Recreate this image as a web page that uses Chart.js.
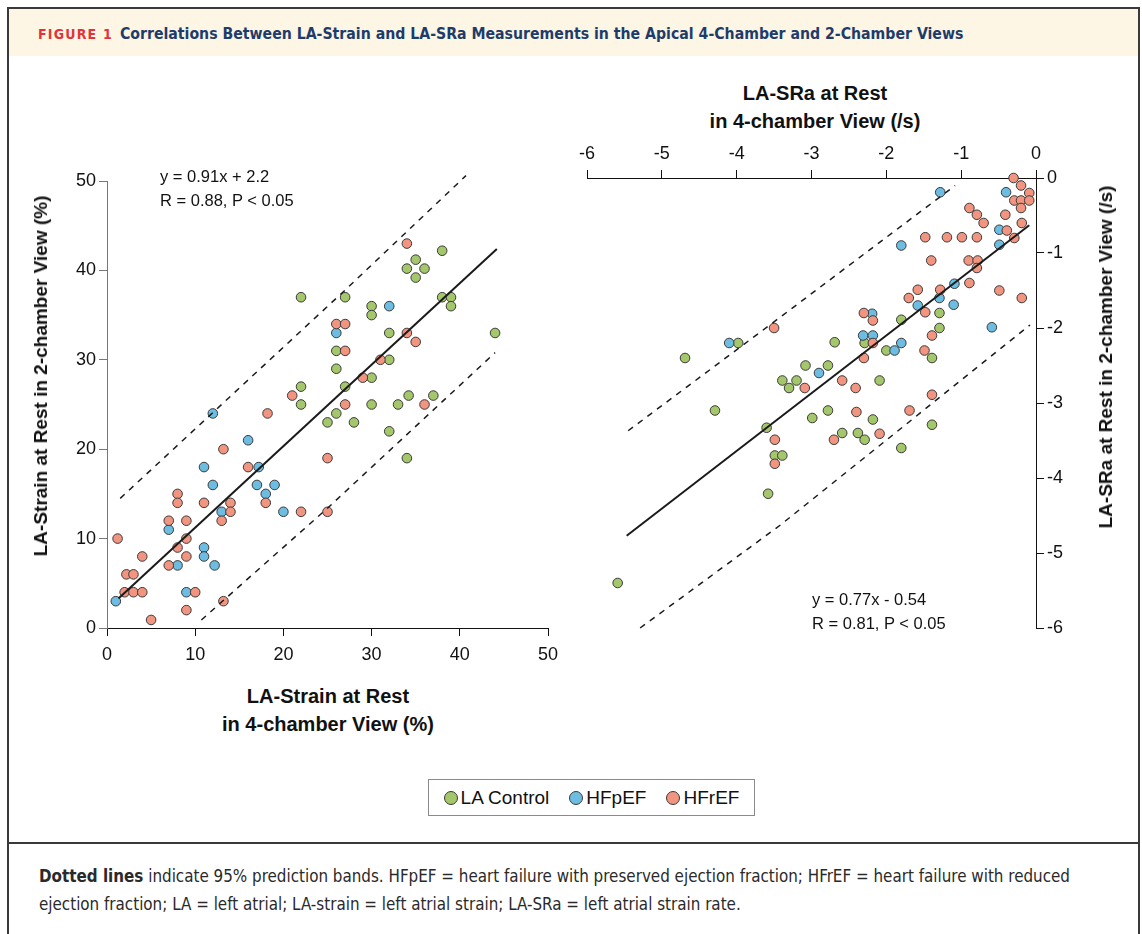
<!DOCTYPE html>
<html>
<head>
<meta charset="utf-8">
<script src="https://cdn.jsdelivr.net/npm/chart.js@4.4.1/dist/chart.umd.min.js"></script>
<style>
  body { margin: 0; width: 1142px; height: 934px; background: #fff; position: relative; overflow: hidden;
         font-family: "Liberation Sans", Arial, sans-serif; color: #111; }
  .abs { position: absolute; }
  #frame { left: 7px; top: 7px; width: 1133px; height: 940px; border: 2px solid #3a3a3a; border-bottom: none; box-sizing: border-box; }
  #band { left: 9px; top: 9px; width: 1129px; height: 47px; background: #fdf6e4; }
  #head { left: 38px; top: 24px; font-family: "DejaVu Sans Condensed", "DejaVu Sans", sans-serif; font-weight: bold; font-size: 15.7px; color: #1d3c6c; white-space: nowrap; }
  #head .fig { color: #e2333a; letter-spacing: 1.2px; margin-right: 7px; font-size: 14px; }
  #divider { left: 7px; top: 842px; width: 1133px; height: 2px; background: #3a3a3a; }
  #foot { left: 39px; top: 862px; width: 1090px; font-family: "DejaVu Sans Condensed", "DejaVu Sans", sans-serif; font-size: 16.85px; line-height: 28px; color: #2a2a2a; white-space: nowrap; }
  .ttl { font-weight: bold; font-size: 20px; text-align: center; white-space: nowrap; line-height: 28px; transform: translate(-50%, -50%); }
  .vt { font-weight: bold; font-size: 19px; white-space: nowrap; transform: translate(-50%, -50%) rotate(-90deg); }
  .eq { font-size: 16.5px; line-height: 24px; white-space: nowrap; }
  #legend { left: 428px; top: 779px; width: 327px; height: 37px; border: 1px solid #8a8a8a; box-sizing: border-box;
            display: flex; align-items: center; justify-content: center; font-size: 19px; }
  #legend span.dot { display: inline-block; width: 12px; height: 12px; border-radius: 50%; border: 1px solid #3a3a3a; margin-right: 3px; vertical-align: -1px; }
  #legend span.item { margin: 0 10px; }
</style>
</head>
<body>
<div id="frame" class="abs"></div>
<div id="band" class="abs"></div>
<div id="head" class="abs"><span class="fig">FIGURE 1</span>Correlations Between LA-Strain and LA-SRa Measurements in the Apical 4-Chamber and 2-Chamber Views</div>

<div class="abs" style="left:0;top:140px;width:570px;height:540px"><canvas id="strainChart" width="570" height="540"></canvas></div>
<div class="abs" style="left:560px;top:140px;width:560px;height:520px"><canvas id="sraChart" width="560" height="520"></canvas></div>

<div class="abs eq" style="left:160px;top:164px">y = 0.91x + 2.2<br>R = 0.88, P &lt; 0.05</div>
<div class="abs eq" style="left:812px;top:587px">y = 0.77x - 0.54<br>R = 0.81, P &lt; 0.05</div>

<div class="abs ttl" style="left:328px;top:710px">LA-Strain at Rest<br>in 4-chamber View (%)</div>
<div class="abs vt" style="left:41px;top:376px">LA-Strain at Rest in 2-chamber View (%)</div>
<div class="abs ttl" style="left:815px;top:107px">LA-SRa at Rest<br>in 4-chamber View (/s)</div>
<div class="abs vt" style="left:1106px;top:357px">LA-SRa at Rest in 2-chamber View (/s)</div>

<div id="legend" class="abs">
  <span class="item"><span class="dot" style="background:#a4c76c"></span>LA Control</span>
  <span class="item"><span class="dot" style="background:#6dbde3"></span>HFpEF</span>
  <span class="item"><span class="dot" style="background:#f19580"></span>HFrEF</span>
</div>

<div id="divider" class="abs"></div>
<div id="foot" class="abs"><b>Dotted lines</b> indicate 95% prediction bands. HFpEF = heart failure with preserved ejection fraction; HFrEF = heart failure with reduced<br>ejection fraction; LA = left atrial; LA-strain = left atrial strain; LA-SRa = left atrial strain rate.</div>

<script>
// group names and colours
const groups = ['LA Control', 'HFpEF', 'HFrEF'];
const groupColors = ['#a4c76c', '#6dbde3', '#f19580'];

// LA-strain (%), 4-chamber (x) vs 2-chamber (y)
const strainControlX = [38, 35, 34, 36, 35, 22, 27, 38, 39, 39, 30, 30, 32, 44, 26, 32, 26, 30, 22, 27, 22, 30, 33, 34.2, 37, 26, 25, 28, 32, 34];
const strainControlY = [42.2, 41.2, 40.2, 40.2, 39.2, 37, 37, 37, 37, 36, 36, 35, 33, 33, 31, 30, 29, 28, 27, 27, 25, 25, 25, 26, 26, 24, 23, 23, 22, 19];
const strainPefX = [32, 26, 12, 16, 11, 17.2, 12, 17, 19, 18, 13, 20, 7, 11, 11, 8, 12.2, 9, 1];
const strainPefY = [36, 33, 24, 21, 18, 18, 16, 16, 16, 15, 13, 13, 11, 9, 8, 7, 7, 4, 3];
const strainRefX = [34, 26, 27, 34, 35, 27, 31, 29, 21, 27, 36, 18.2, 13.2, 16, 25, 8, 8, 11, 14, 18, 14, 22, 25, 7, 9, 13, 1.2, 9, 8, 4, 9, 7, 2.2, 3, 2, 3, 4, 10, 13.2, 9, 5];
const strainRefY = [43, 34, 34, 33, 32, 31, 30, 28, 26, 25, 25, 24, 20, 18, 19, 15, 14, 14, 14, 14, 13, 13, 13, 12, 12, 12, 10, 10, 9, 8, 8, 7, 6, 6, 4, 4, 4, 4, 3, 2, 0.9];
// fitted line and 95% prediction bands, read at their ends
const strainFitX = [1.3, 44.2];
const strainFitY = [3.3, 42.4];
const strainUpperX = [1.5, 27, 40.7];
const strainUpperY = [14.5, 37.8, 50.6];
const strainLowerX = [10.7, 25, 44];
const strainLowerY = [0.9, 13.4, 30.8];
const strainTicks = [0, 10, 20, 30, 40, 50];

// LA-SRa (/s), 4-chamber (x) vs 2-chamber (y)
const sraControlX = [-1.29, -1.8, -1.29, -3.98, -2.69, -2.29, -2.0, -1.39, -4.69, -3.08, -2.78, -3.39, -3.2, -3.3, -2.09, -4.29, -2.78, -2.99, -2.18, -3.6, -1.39, -2.59, -2.38, -2.29, -1.8, -3.49, -3.39, -3.58, -5.59];
const sraControlY = [-1.8, -1.89, -2.0, -2.2, -2.19, -2.2, -2.3, -2.4, -2.4, -2.5, -2.5, -2.7, -2.7, -2.8, -2.7, -3.1, -3.1, -3.2, -3.22, -3.33, -3.29, -3.4, -3.4, -3.49, -3.6, -3.7, -3.7, -4.21, -5.4];
const sraPefX = [-1.28, -0.4, -0.49, -0.49, -1.8, -1.09, -1.29, -1.58, -1.1, -2.19, -2.31, -2.18, -0.59, -1.8, -1.89, -4.1, -2.9];
const sraPefY = [-0.19, -0.19, -0.69, -0.89, -0.9, -1.41, -1.6, -1.7, -1.69, -1.81, -2.1, -2.1, -1.99, -2.2, -2.3, -2.2, -2.6];
const sraRefX = [-0.3, -0.2, -0.09, -0.29, -0.2, -0.09, -0.2, -0.89, -0.79, -0.41, -0.7, -0.19, -0.39, -1.48, -1.19, -0.99, -0.79, -0.29, -1.4, -0.9, -0.78, -0.79, -0.89, -1.58, -1.28, -0.49, -1.7, -0.19, -1.48, -2.3, -2.18, -3.5, -1.39, -2.18, -1.49, -2.3, -3.09, -2.59, -2.41, -1.39, -1.69, -2.4, -2.09, -2.7, -3.49, -3.49];
const sraRefY = [0, -0.1, -0.2, -0.3, -0.3, -0.3, -0.4, -0.4, -0.49, -0.49, -0.6, -0.6, -0.7, -0.79, -0.79, -0.79, -0.79, -0.8, -1.1, -1.1, -1.1, -1.2, -1.4, -1.49, -1.49, -1.5, -1.6, -1.6, -1.79, -1.8, -1.9, -2.0, -2.1, -2.2, -2.3, -2.4, -2.8, -2.7, -2.8, -2.89, -3.1, -3.12, -3.41, -3.49, -3.49, -3.81];
const sraFitX = [-5.47, -0.09];
const sraFitY = [-4.77, -0.63];
const sraUpperX = [-5.45, -3.53, -1.08];
const sraUpperY = [-3.37, -1.94, -0.1];
const sraLowerX = [-5.29, -3.42, -0.08];
const sraLowerY = [-6.0, -4.63, -1.96];
const sraTicks = [-6, -5, -4, -3, -2, -1, 0];

Chart.defaults.font.family = '"Liberation Sans", Arial, sans-serif';
Chart.defaults.color = '#111';

function zip(xs, ys) {
    return xs.map((x, i) => ({ x: x, y: ys[i] }));
}

function pointSet(i, xs, ys) {
    return {
        label: groups[i],
        data: zip(xs, ys),
        backgroundColor: groupColors[i],
        borderColor: '#3a3a3a',
        borderWidth: 1,
        pointRadius: 4.8,
        clip: false,
        order: 4 - i
    };
}

function lineSet(xs, ys, dashed) {
    return {
        data: zip(xs, ys),
        showLine: true,
        borderColor: '#1a1a1a',
        borderWidth: dashed ? 1.5 : 2,
        borderDash: dashed ? [6, 6] : [],
        pointRadius: 0,
        fill: false,
        clip: false,
        order: dashed ? 1 : 0
    };
}

function axis(pos, ticks, color, size, tickPad) {
    return {
        type: 'linear',
        position: pos,
        min: ticks[0],
        max: ticks[ticks.length - 1],
        afterBuildTicks: s => { s.ticks = ticks.map(v => ({ value: v })); },
        afterFit: s => {
            if (pos === 'left' || pos === 'right') s.width = size; else s.height = size;
        },
        grid: { display: true, drawOnChartArea: false, drawTicks: true, tickLength: 8, color: color, tickWidth: 1 },
        border: { display: true, color: color, width: 1 },
        ticks: { font: { size: 18 }, color: '#111', padding: tickPad, maxRotation: 0 }
    };
}

const baseOptions = {
    responsive: false,
    animation: false,
    plugins: { legend: { display: false }, tooltip: { enabled: false } }
};

// left panel: LA-strain
new Chart(document.getElementById('strainChart'), {
    type: 'scatter',
    data: {
        datasets: [
            lineSet(strainFitX, strainFitY, false),
            lineSet(strainUpperX, strainUpperY, true),
            lineSet(strainLowerX, strainLowerY, true),
            pointSet(2, strainRefX, strainRefY),
            pointSet(1, strainPefX, strainPefY),
            pointSet(0, strainControlX, strainControlY)
        ]
    },
    options: Object.assign({}, baseOptions, {
        layout: { padding: { top: 41, right: 22, bottom: 0, left: 0 } },
        scales: {
            x: axis('bottom', strainTicks, '#111', 52, 8),
            y: axis('left', strainTicks, '#777', 107, 3)
        }
    })
});

// right panel: LA-SRa
new Chart(document.getElementById('sraChart'), {
    type: 'scatter',
    data: {
        datasets: [
            lineSet(sraFitX, sraFitY, false),
            lineSet(sraUpperX, sraUpperY, true),
            lineSet(sraLowerX, sraLowerY, true),
            pointSet(2, sraRefX, sraRefY),
            pointSet(1, sraPefX, sraPefY),
            pointSet(0, sraControlX, sraControlY)
        ]
    },
    options: Object.assign({}, baseOptions, {
        layout: { padding: { top: 0, right: 0, bottom: 32, left: 27 } },
        scales: {
            x: axis('top', sraTicks, '#111', 38, 5),
            y: axis('right', sraTicks, '#111', 84, 3)
        }
    })
});
</script>
</body>
</html>
